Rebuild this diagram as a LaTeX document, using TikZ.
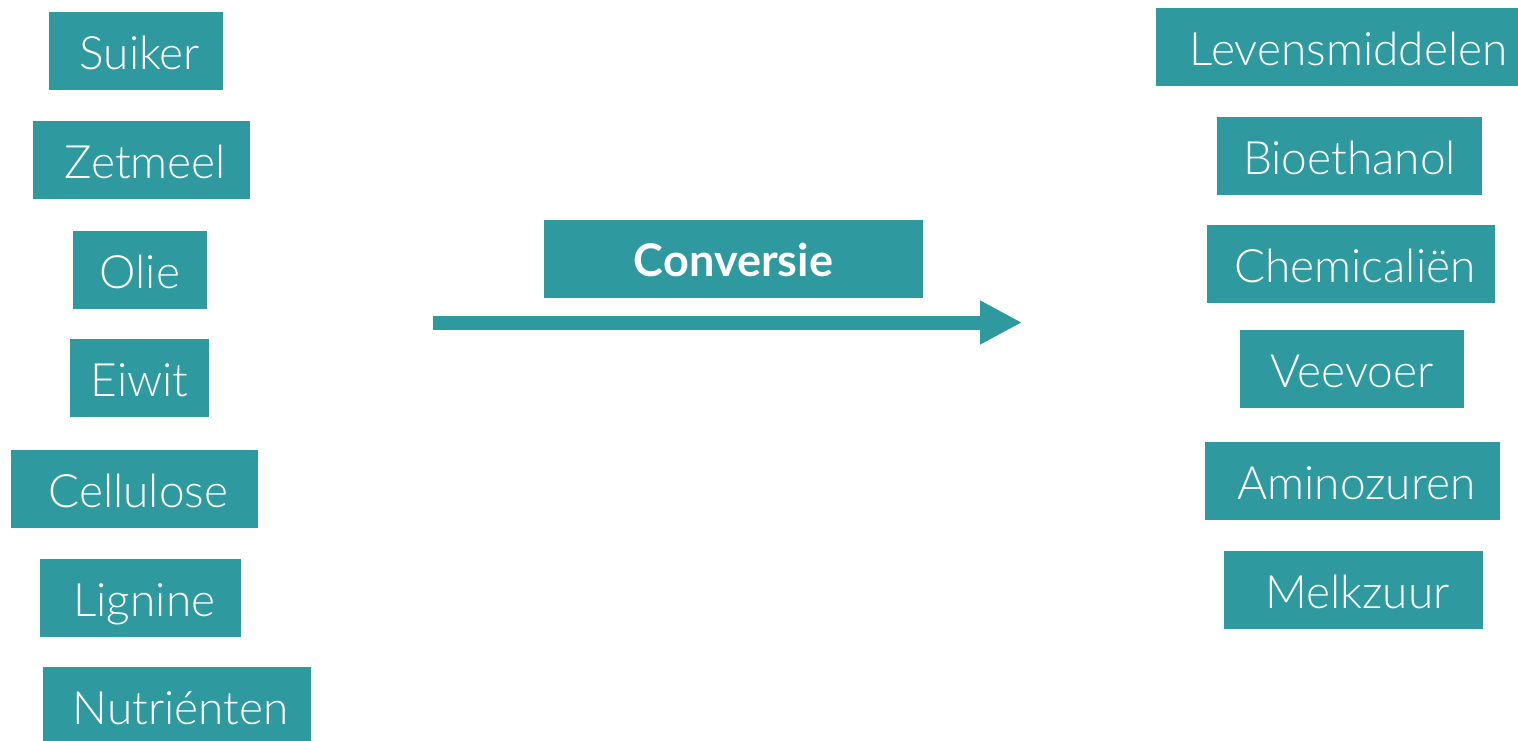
\documentclass[tikz,border=0pt]{standalone}
\usepackage{fontspec}
\setmainfont{Lato}[UprightFont=* Light,BoldFont=* Bold]
\usetikzlibrary{arrows.meta}
\definecolor{petrol}{RGB}{46,153,158}
\begin{document}
\begin{tikzpicture}[x=1pt,y=-1pt,>={Triangle[length=42pt,width=41pt]},
    box/.style={fill=petrol,text=white,inner sep=0pt,minimum height=78pt,text height=36pt,text depth=0pt,
        font=\fontsize{46}{52}\selectfont}]
    \clip (0,0) rectangle (1518,740);
    % grondstoffen
    \node[box,minimum width=174pt] (suiker) at (136,51) {\,Suiker};
    \node[box,minimum width=217pt] (zetmeel) at (141.5,160) {\,Zetmeel};
    \node[box,minimum width=134pt] (olie) at (140,270) {Olie};
    \node[box,minimum width=139pt] (eiwit) at (139.5,378) {Eiwit};
    \node[box,minimum width=247pt] (cellulose) at (134.5,489) {\,Cellulose};
    \node[box,minimum width=201pt] (lignine) at (140.5,598) {\,Lignine};
    \node[box,minimum width=268pt] (nutrienten) at (177,706) {\,Nutriénten};
    % conversie
    \node[box,minimum width=379pt,text height=34pt,font=\fontsize{45}{52}\selectfont\bfseries] (conversie) at (733.5,259) {Conversie};
    \coordinate (start) at (433,322.5);
    \coordinate (eind) at (1022,322.5);
    \draw[->,petrol,line width=14pt] (start) -- (eind);
    % producten
    \node[box,minimum width=370pt] (levensmiddelen) at (1341,47) {\,\,Levensmiddelen};
    \node[box,minimum width=265pt] (bioethanol) at (1349.5,156) {Bioethanol};
    \node[box,minimum width=288pt] (chemicalien) at (1351,264) {\,Chemicaliën};
    \node[box,minimum width=224pt] (veevoer) at (1352,369) {Veevoer};
    \node[box,minimum width=295pt] (aminozuren) at (1352.5,481) {\,Aminozuren};
    \node[box,minimum width=259pt] (melkzuur) at (1353.5,590) {\,Melkzuur};
\end{tikzpicture}
\end{document}
